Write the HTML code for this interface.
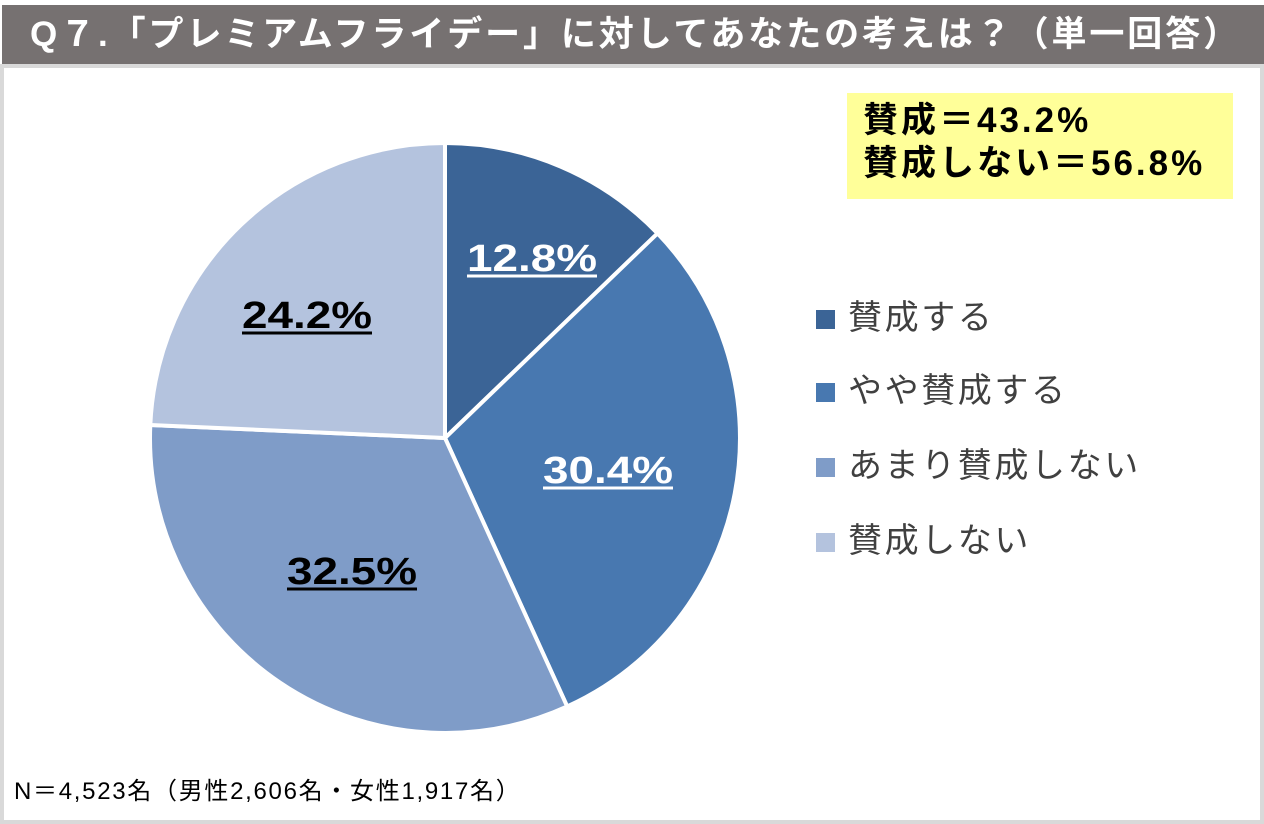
<!DOCTYPE html>
<html><head><meta charset="utf-8"><style>
body{margin:0;width:1264px;height:824px;background:#fff;position:relative;overflow:hidden;font-family:"Liberation Sans","Noto Sans CJK JP",sans-serif}
.hdr{position:absolute;left:2px;top:5px;width:1262px;height:59px;background:#767171;color:#fff;font-weight:bold;font-size:35px;line-height:59px;padding-left:28px;box-sizing:border-box;letter-spacing:2.9px;white-space:nowrap}
.frame{position:absolute;left:0;top:64px;width:1264px;height:760px;border:4px solid #d9d9d9;box-sizing:border-box}
.box{position:absolute;left:847px;top:93px;width:386px;height:106px;background:#ffff99;font-weight:bold;font-size:35px;line-height:43px;padding:6px 0 0 16px;box-sizing:border-box;color:#000;letter-spacing:3px;white-space:nowrap}
.leg{position:absolute;left:816px;font-size:34px;color:#404040;line-height:40px;letter-spacing:2.6px;white-space:nowrap}
.leg span{display:inline-block;width:19px;height:19px;margin-right:13px;vertical-align:0px}
.foot{position:absolute;left:14px;top:771px;font-size:24px;color:#000;letter-spacing:1.7px;white-space:nowrap}
</style></head><body>
<div class="hdr">Q７.「プレミアムフライデー」に対してあなたの考えは？（単一回答）</div>
<div class="frame"></div>
<svg width="1264" height="824" style="position:absolute;left:0;top:0">
<g stroke="#fff" stroke-width="4" stroke-linejoin="round">
<path d="M445,438 L445,143 A295,295 0 0 1 657.5,233.4 Z" fill="#3b6496"/>
<path d="M445,438 L657.5,233.4 A295,295 0 0 1 567.2,706.5 Z" fill="#4878b0"/>
<path d="M445,438 L567.2,706.5 A295,295 0 0 1 150.3,425 Z" fill="#7f9cc8"/>
<path d="M445,438 L150.3,425 A295,295 0 0 1 445,143 Z" fill="#b4c3de"/>
</g>
<g font-family="Liberation Sans, sans-serif" font-weight="bold" font-size="38">
<text x="467" y="271" fill="#fff" textLength="130" lengthAdjust="spacingAndGlyphs">12.8%</text>
<text x="543" y="483" fill="#fff" textLength="130" lengthAdjust="spacingAndGlyphs">30.4%</text>
<text x="287" y="584" fill="#000" textLength="130" lengthAdjust="spacingAndGlyphs">32.5%</text>
<text x="242" y="328" fill="#000" textLength="130" lengthAdjust="spacingAndGlyphs">24.2%</text>
</g>
<g stroke-width="3">
<line x1="467" y1="276" x2="597" y2="276" stroke="#fff"/>
<line x1="543" y1="488" x2="673" y2="488" stroke="#fff"/>
<line x1="287" y1="589" x2="417" y2="589" stroke="#000"/>
<line x1="242" y1="333" x2="372" y2="333" stroke="#000"/>
</g>
</svg>
<div class="box">賛成＝43.2%<br>賛成しない＝56.8%</div>
<div class="leg" style="top:298px"><span style="background:#3b6496"></span>賛成する</div>
<div class="leg" style="top:371px"><span style="background:#4878b0"></span>やや賛成する</div>
<div class="leg" style="top:446px"><span style="background:#7f9cc8"></span>あまり賛成しない</div>
<div class="leg" style="top:521px"><span style="background:#b4c3de"></span>賛成しない</div>
<div class="foot">N＝4,523名（男性2,606名・女性1,917名）</div>
</body></html>
